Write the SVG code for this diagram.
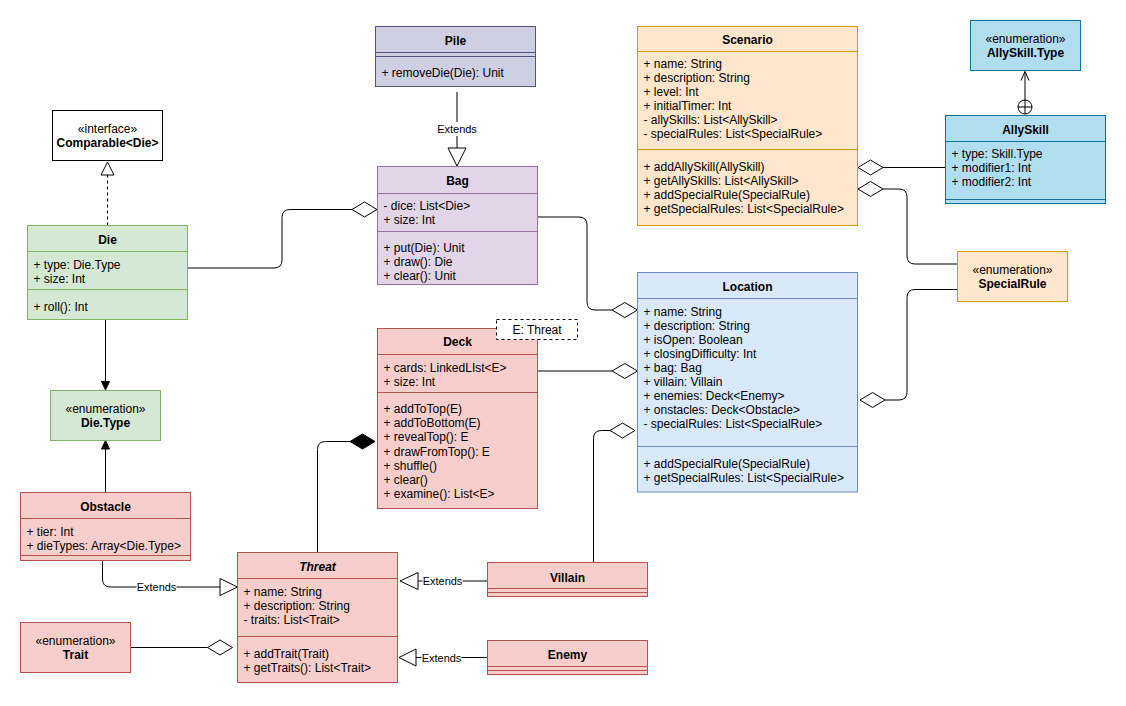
<svg xmlns="http://www.w3.org/2000/svg" width="1126" height="706" viewBox="0 0 1126 706">
<style>
text{font-family:"Liberation Sans",Arial,Helvetica,sans-serif;font-size:12px;fill:#000}
.b{font-weight:bold}
.c{text-anchor:middle}
.i{font-style:italic}
.lbl{font-size:11px}
.green{fill:#d5e8d4;stroke:#82b366}
.purple{fill:#e1d5e7;stroke:#9673a6}
.pile{fill:#d0cee2;stroke:#56517e}
.orange{fill:#ffe6cc;stroke:#d79b00}
.blue{fill:#dae8fc;stroke:#6c8ebf}
.sky{fill:#b1ddf0;stroke:#10739e}
.red{fill:#f8cecc;stroke:#b85450}
.white{fill:#fff;stroke:#000}
.sg{stroke:#82b366}.sp{stroke:#9673a6}.spl{stroke:#56517e}.so{stroke:#d79b00}.sb{stroke:#6c8ebf}.ss{stroke:#10739e}.sr{stroke:#b85450}
.ln{fill:none;stroke:#000;stroke-width:1}
.dia{fill:#fff;stroke:#000}
.fill{fill:#000;stroke:#000}
.bg{fill:#fff;stroke:none}
</style>
<rect width="1126" height="706" fill="#fff"/>

<g id="connectors">
  <!-- Die -> Bag aggregation -->
  <path class="ln" d="M187.5,268 H274 Q282,268 282,260 V217.5 Q282,209.5 290,209.5 H352"/>
  <polygon class="dia" points="352,209.5 364.5,202 377,209.5 364.5,217"/>
  <!-- Bag -> Location -->
  <path class="ln" d="M537,217 H579 Q587,217 587,225 V302 Q587,310 595,310 H612"/>
  <polygon class="dia" points="612,310 624.8,302.5 637.5,310 624.8,317.5"/>
  <!-- Deck -> Location -->
  <path class="ln" d="M537.5,371 H612"/>
  <polygon class="dia" points="612,371 624.8,363.5 637.5,371 624.8,378.5"/>
  <!-- Villain -> Location -->
  <path class="ln" d="M593.5,562.5 V438.5 Q593.5,430.5 601.5,430.5 H610"/>
  <polygon class="dia" points="610,430.5 622.5,423 635,430.5 622.5,438"/>
  <!-- AllySkill -> Scenario -->
  <path class="ln" d="M946,167.5 H883"/>
  <polygon class="dia" points="858,167.5 870.5,160 883,167.5 870.5,175"/>
  <!-- SpecialRule -> Scenario -->
  <path class="ln" d="M957.5,264 H915 Q907,264 907,256 V197 Q907,189 899,189 H883"/>
  <polygon class="dia" points="858,189 870.5,181.5 883,189 870.5,196.5"/>
  <!-- SpecialRule -> Location -->
  <path class="ln" d="M957.5,289.5 H915 Q907,289.5 907,297.5 V392 Q907,400 899,400 H885"/>
  <polygon class="dia" points="860,400 872.5,392.5 885,400 872.5,407.5"/>
  <!-- AllySkill nested in AllySkill.Type -->
  <path class="ln" d="M1025,100 V71.5"/>
  <path class="ln" d="M1021,80.5 L1025,71.5 L1029,80.5"/>
  <circle cx="1025" cy="107" r="7" fill="#fff" stroke="#000"/>
  <path class="ln" d="M1018,107 H1032 M1025,100 V114"/>
  <!-- Pile extends Bag -->
  <path class="ln" d="M457,92 V148"/>
  <rect class="bg" x="437" y="122" width="40" height="14"/>
  <text class="lbl c" x="457" y="133">Extends</text>
  <polygon class="dia" points="448,148 466,148 457,166"/>
  <!-- Die implements Comparable -->
  <path class="ln" d="M107.5,225.5 V175" stroke-dasharray="3,3"/>
  <polygon class="dia" points="101,175 114,175 107.5,162"/>
  <!-- Die -> Die.Type -->
  <path class="ln" d="M105.5,319.5 V382"/>
  <polygon class="fill" points="101.5,381.5 109.5,381.5 105.5,390"/>
  <!-- Obstacle -> Die.Type -->
  <path class="ln" d="M105.5,492 V449"/>
  <polygon class="fill" points="101.5,449 109.5,449 105.5,440.5"/>
  <!-- Obstacle extends Threat -->
  <path class="ln" d="M102.5,560 V579 Q102.5,587 110.5,587 H220"/>
  <rect class="bg" x="136.5" y="580" width="40" height="14"/>
  <text class="lbl c" x="156.5" y="591">Extends</text>
  <polygon class="dia" points="220,578.5 220,595.5 237.5,587"/>
  <!-- Villain extends Threat -->
  <path class="ln" d="M487.5,581 H418"/>
  <rect class="bg" x="422.5" y="574" width="40" height="14"/>
  <text class="lbl c" x="442.5" y="585">Extends</text>
  <polygon class="dia" points="418,572.5 418,589.5 400,581"/>
  <!-- Enemy extends Threat -->
  <path class="ln" d="M487.5,657.5 H416"/>
  <rect class="bg" x="421.5" y="650.5" width="40" height="14"/>
  <text class="lbl c" x="441.5" y="661.5">Extends</text>
  <polygon class="dia" points="416,649 416,666 399,657.5"/>
  <!-- Trait -> Threat -->
  <path class="ln" d="M130.5,647.5 H207.5"/>
  <polygon class="dia" points="207.5,647.5 220,640 232.5,647.5 220,655"/>
  <!-- Threat composed in Deck -->
  <path class="ln" d="M317.5,552.5 V449.5 Q317.5,441.5 325.5,441.5 H350"/>
  <polygon class="fill" points="350,441.5 362.5,434 375,441.5 362.5,449"/>
</g>

<g id="pile">
  <rect class="pile" x="375.5" y="26.5" width="160" height="60"/>
  <text class="b c" x="455.5" y="45">Pile</text>
  <path class="spl" d="M375.5,52.5 H535.5 M375.5,56.5 H535.5"/>
  <text x="381.5" y="77">+ removeDie(Die): Unit</text>
</g>

<g id="comparable">
  <rect class="white" x="52.5" y="110.5" width="110" height="50"/>
  <text class="c" x="107.5" y="133">«interface»</text>
  <text class="b c" x="107.5" y="147">Comparable&lt;Die&gt;</text>
</g>

<g id="die">
  <rect class="green" x="27.5" y="225.5" width="160" height="94"/>
  <text class="b c" x="107.5" y="244">Die</text>
  <path class="sg" d="M27.5,251.5 H187.5 M27.5,289.5 H187.5"/>
  <text x="33.5" y="268.7">+ type: Die.Type</text>
  <text x="33.5" y="282.7">+ size: Int</text>
  <text x="33.5" y="310.7">+ roll(): Int</text>
</g>

<g id="dietype">
  <rect class="green" x="50.5" y="390.5" width="110" height="50"/>
  <text class="c" x="105.5" y="413">«enumeration»</text>
  <text class="b c" x="105.5" y="427">Die.Type</text>
</g>

<g id="bag">
  <rect class="purple" x="377.5" y="166.5" width="160" height="118"/>
  <text class="b c" x="457.5" y="185">Bag</text>
  <path class="sp" d="M377.5,193.5 H537.5 M377.5,231.5 H537.5"/>
  <text x="383.5" y="209.7">- dice: List&lt;Die&gt;</text>
  <text x="383.5" y="223.7">+ size: Int</text>
  <text x="383.5" y="251.7">+ put(Die): Unit</text>
  <text x="383.5" y="265.7">+ draw(): Die</text>
  <text x="383.5" y="279.7">+ clear(): Unit</text>
</g>

<g id="scenario">
  <rect class="orange" x="637.5" y="26.5" width="220" height="199"/>
  <text class="b c" x="747.5" y="43.5">Scenario</text>
  <path class="so" d="M637.5,51.5 H857.5 M637.5,149.5 H857.5"/>
  <text x="643.5" y="68.3">+ name: String</text>
  <text x="643.5" y="82.3">+ description: String</text>
  <text x="643.5" y="96.3">+ level: Int</text>
  <text x="643.5" y="110.3">+ initialTimer: Int</text>
  <text x="643.5" y="124.3">- allySkills: List&lt;AllySkill&gt;</text>
  <text x="643.5" y="138.3">- specialRules: List&lt;SpecialRule&gt;</text>
  <text x="643.5" y="170.7">+ addAllySkill(AllySkill)</text>
  <text x="643.5" y="184.7">+ getAllySkills: List&lt;AllySkill&gt;</text>
  <text x="643.5" y="198.7">+ addSpecialRule(SpecialRule)</text>
  <text x="643.5" y="212.7">+ getSpecialRules: List&lt;SpecialRule&gt;</text>
</g>

<g id="allyskilltype">
  <rect class="sky" x="970.5" y="20.5" width="110" height="50"/>
  <text class="c" x="1025.5" y="43">«enumeration»</text>
  <text class="b c" x="1025.5" y="57">AllySkill.Type</text>
</g>

<g id="allyskill">
  <rect class="sky" x="945.5" y="115.5" width="160" height="88"/>
  <text class="b c" x="1025.5" y="133.7">AllySkill</text>
  <path class="ss" d="M945.5,141.5 H1105.5 M945.5,199.5 H1105.5"/>
  <text x="951.5" y="158.3">+ type: Skill.Type</text>
  <text x="951.5" y="172.3">+ modifier1: Int</text>
  <text x="951.5" y="186.3">+ modifier2: Int</text>
</g>

<g id="specialrule">
  <rect class="orange" x="957.5" y="251.5" width="110" height="50"/>
  <text class="c" x="1012.5" y="274">«enumeration»</text>
  <text class="b c" x="1012.5" y="288">SpecialRule</text>
</g>

<g id="location">
  <rect class="blue" x="637.5" y="272.5" width="220" height="219.5"/>
  <text class="b c" x="747.5" y="290.5">Location</text>
  <path class="sb" d="M637.5,298.5 H857.5 M637.5,446.5 H857.5"/>
  <text x="643.5" y="316">+ name: String</text>
  <text x="643.5" y="330">+ description: String</text>
  <text x="643.5" y="344">+ isOpen: Boolean</text>
  <text x="643.5" y="358">+ closingDifficulty: Int</text>
  <text x="643.5" y="372">+ bag: Bag</text>
  <text x="643.5" y="386">+ villain: Villain</text>
  <text x="643.5" y="400">+ enemies: Deck&lt;Enemy&gt;</text>
  <text x="643.5" y="414">+ onstacles: Deck&lt;Obstacle&gt;</text>
  <text x="643.5" y="428">- specialRules: List&lt;SpecialRule&gt;</text>
  <text x="643.5" y="467.5">+ addSpecialRule(SpecialRule)</text>
  <text x="643.5" y="481.7">+ getSpecialRules: List&lt;SpecialRule&gt;</text>
</g>

<g id="deck">
  <rect class="red" x="377.5" y="328.5" width="160" height="180"/>
  <text class="b c" x="457.5" y="346.3">Deck</text>
  <path class="sr" d="M377.5,354.5 H537.5 M377.5,392.5 H537.5"/>
  <text x="383.5" y="372">+ cards: LinkedLIst&lt;E&gt;</text>
  <text x="383.5" y="386">+ size: Int</text>
  <text x="383.5" y="413">+ addToTop(E)</text>
  <text x="383.5" y="427.3">+ addToBottom(E)</text>
  <text x="383.5" y="441.3">+ revealTop(): E</text>
  <text x="383.5" y="455.7">+ drawFromTop(): E</text>
  <text x="383.5" y="469.7">+ shuffle()</text>
  <text x="383.5" y="483.7">+ clear()</text>
  <text x="383.5" y="497.7">+ examine(): List&lt;E&gt;</text>
</g>

<g id="deck-param">
  <rect x="496.5" y="319.5" width="81" height="20" fill="#fff" stroke="#000" stroke-dasharray="3,3"/>
  <text class="c" x="537" y="334">E: Threat</text>
</g>

<g id="obstacle">
  <rect class="red" x="20.5" y="492.5" width="170" height="68"/>
  <text class="b c" x="105.5" y="510.7">Obstacle</text>
  <path class="sr" d="M20.5,518.5 H190.5 M20.5,555.5 H190.5"/>
  <text x="26.5" y="535.7">+ tier: Int</text>
  <text x="26.5" y="549.7">+ dieTypes: Array&lt;Die.Type&gt;</text>
</g>

<g id="threat">
  <rect class="red" x="237.5" y="552.5" width="160" height="130"/>
  <text class="b c i" x="317.5" y="570.7">Threat</text>
  <path class="sr" d="M237.5,578.5 H397.5 M237.5,636.5 H397.5"/>
  <text x="243.5" y="595.7">+ name: String</text>
  <text x="243.5" y="609.7">+ description: String</text>
  <text x="243.5" y="623.7">- traits: List&lt;Trait&gt;</text>
  <text x="243.5" y="658">+ addTrait(Trait)</text>
  <text x="243.5" y="672">+ getTraits(): List&lt;Trait&gt;</text>
</g>

<g id="villain">
  <rect class="red" x="487.5" y="562.5" width="160" height="34"/>
  <text class="b c" x="567.5" y="581.7">Villain</text>
  <path class="sr" d="M487.5,588.5 H647.5 M487.5,592.5 H647.5"/>
</g>

<g id="enemy">
  <rect class="red" x="487.5" y="640.5" width="160" height="34"/>
  <text class="b c" x="567.5" y="659">Enemy</text>
  <path class="sr" d="M487.5,666.5 H647.5 M487.5,670.5 H647.5"/>
</g>

<g id="trait">
  <rect class="red" x="20.5" y="622.5" width="110" height="50"/>
  <text class="c" x="75.5" y="645">«enumeration»</text>
  <text class="b c" x="75.5" y="659">Trait</text>
</g>
</svg>
